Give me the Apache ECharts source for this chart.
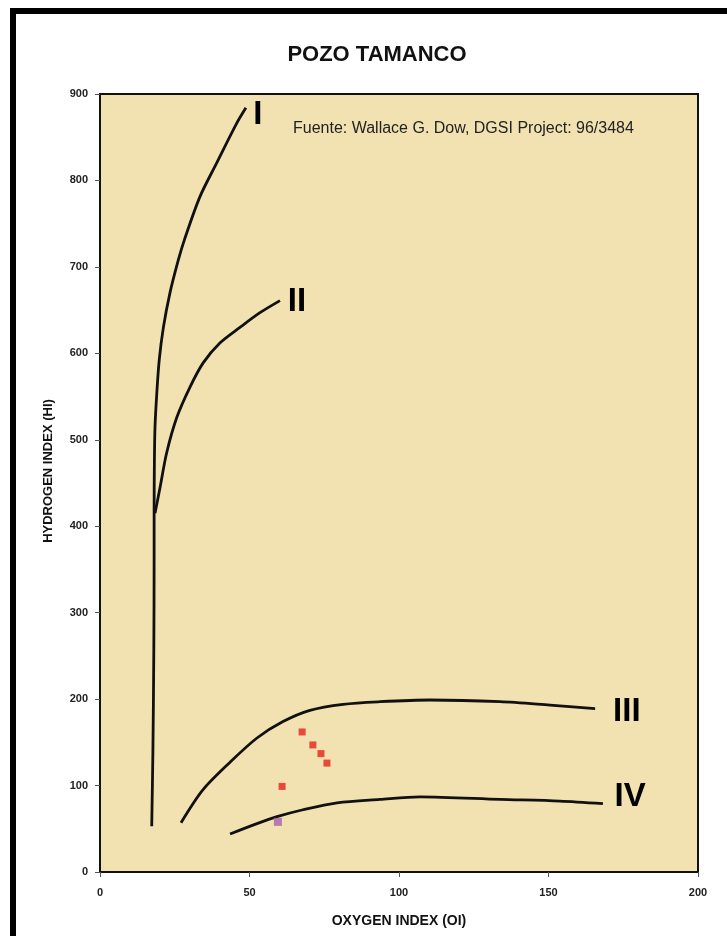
<!DOCTYPE html>
<html>
<head>
<meta charset="utf-8">
<script src="https://cdn.jsdelivr.net/npm/echarts@6/dist/echarts.min.js"></script>
<style>
html,body{margin:0;padding:0;background:#fff;}
#c{width:727px;height:936px;}
</style>
</head>
<body>
<div id="c"></div>
<script>
// Type curves [OI, HI]
const curveI = [[17.3,53],[17.7,141],[18.0,257],[18.1,361],[18.1,419],[18.2,477],[18.4,515],[19.0,554],[19.8,592],[21.2,630],[23.4,670],[26.2,708],[28.2,731],[33.4,781],[39.0,820],[45.7,866],[48.8,884]];
const curveII = [[18.4,415],[20.1,445],[22.3,485],[25.7,526],[30.1,561],[34.5,589],[40.1,612],[46.8,630],[53.5,647],[60.2,661]];
const curveIII = [[27.1,57],[34.4,95],[43.5,127],[52.5,155],[61.2,174],[70.2,187],[81.3,194],[93.6,197],[110.4,199],[133.8,197],[150.5,193],[165.6,189]];
const curveIV = [[43.5,44],[52.5,56],[59.2,64],[67.9,72],[79.3,80],[93.6,84],[107,87],[133.8,84],[153.8,82],[168.2,79]];
// Samples
const redSamples = [[67.6,162],[71.2,147],[73.9,137],[75.9,126],[60.9,99]];
const purpleSamples = [[59.5,58]];
// Curve labels
const curveLabels = [[52.8,876,'I'],[65.9,659,'II'],[176.2,185,'III'],[177.3,87,'IV']];
const xTicks = [0,50,100,150,200];
const yTicks = [0,100,200,300,400,500,600,700,800,900];

const font = 'Liberation Sans, Arial, sans-serif';
const chart = echarts.init(document.getElementById('c'));
const lineSeries = (d) => ({
  type:'line', data:d, smooth:0.3, symbol:'none', showSymbol:false,
  lineStyle:{color:'#111', width:2.8}, z:3, silent:true
});
chart.setOption({
  backgroundColor:'#ffffff',
  animation:false,
  title:{
    text:'POZO TAMANCO', left:372, top:39, textAlign:'center',
    textStyle:{fontFamily:font, fontSize:22, fontWeight:'bold', color:'#111'}
  },
  graphic:[
    {type:'rect', shape:{x:13, y:11, width:800, height:1000}, style:{fill:'none', stroke:'#000', lineWidth:6}, z:100},
    {type:'text', left:293, top:121, style:{text:'Fuente: Wallace G. Dow, DGSI Project: 96/3484', fontFamily:font, fontSize:16, fill:'#222'}, z:50}
  ],
  grid:{left:100, right:29, top:94, bottom:64, show:true, backgroundColor:'#F2E2B1', borderColor:'#111', borderWidth:2},
  xAxis:{
    type:'value', min:xTicks[0], max:xTicks[xTicks.length-1], interval:50,
    name:'OXYGEN INDEX (OI)', nameLocation:'middle', nameGap:42,
    nameTextStyle:{fontFamily:font, fontSize:14, fontWeight:'bold', color:'#111'},
    axisLine:{show:true, onZero:false, lineStyle:{color:'#111', width:2}},
    axisTick:{show:true, inside:false, length:5, lineStyle:{color:'#555'}},
    axisLabel:{fontFamily:font, fontSize:11, fontWeight:'bold', color:'#222', margin:15},
    splitLine:{show:false}
  },
  yAxis:{
    type:'value', min:yTicks[0], max:yTicks[yTicks.length-1], interval:100,
    name:'HYDROGEN INDEX (HI)', nameLocation:'middle', nameGap:45,
    nameTextStyle:{fontFamily:font, fontSize:13, fontWeight:'bold', color:'#111', padding:[0,0,0,24]},
    axisLine:{show:true, onZero:false, lineStyle:{color:'#111', width:2}},
    axisTick:{show:true, inside:false, length:5, lineStyle:{color:'#555'}},
    axisLabel:{fontFamily:font, fontSize:11, fontWeight:'bold', color:'#222', margin:12},
    splitLine:{show:false}
  },
  series:[
    lineSeries(curveI), lineSeries(curveII), lineSeries(curveIII), lineSeries(curveIV),
    {type:'scatter', data:redSamples, symbol:'rect', symbolSize:7, itemStyle:{color:'#E5231B'}, z:5},
    {type:'scatter', data:purpleSamples, symbol:'rect', symbolSize:8, itemStyle:{color:'#A660B0'}, z:5},
    {type:'scatter', data:curveLabels, symbolSize:1, itemStyle:{opacity:0}, silent:true, z:6,
     label:{show:true, position:'inside', formatter:(p)=>p.data[2], fontFamily:font, fontSize:33, fontWeight:'bold', color:'#000', opacity:1, textBorderWidth:0}}
  ]
});
</script>
</body>
</html>
